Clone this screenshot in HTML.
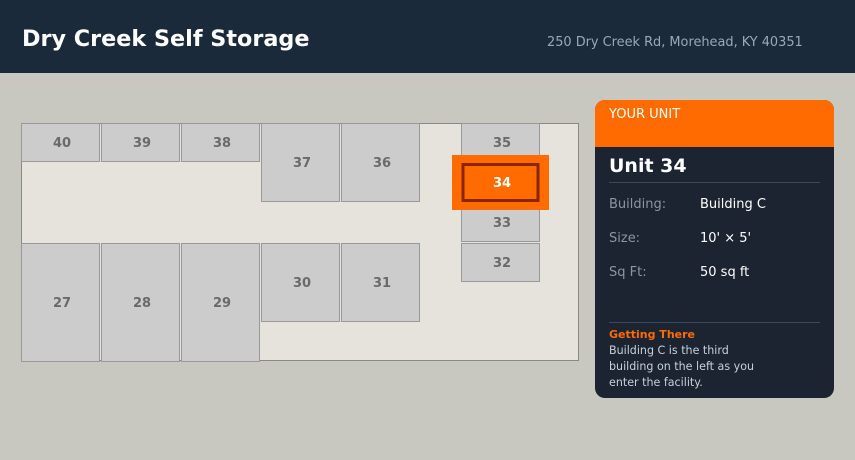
<!DOCTYPE html>
<html><head><meta charset="utf-8"><style>
html,body{margin:0;padding:0;width:855px;height:460px;overflow:hidden;background:#c8c8c0}
svg{display:block;font-family:"DejaVu Sans","Liberation Sans",sans-serif}
</style></head><body>
<svg width="855" height="460" viewBox="0 0 855 460" xmlns="http://www.w3.org/2000/svg">
<rect x="0" y="0" width="855" height="460" fill="#c8c8c0"/>
<rect x="0" y="0" width="855" height="73" fill="#1b2a3b"/>
<text x="22" y="46" font-size="22.3" font-weight="bold" fill="#fff">Dry Creek Self Storage</text>
<text x="547" y="46" font-size="12.9" fill="#9aa8b6">250 Dry Creek Rd, Morehead, KY 40351</text>

<rect x="21.5" y="123.5" width="557" height="237" fill="#e6e2dc" stroke="#888" stroke-width="1"/>
<g fill="#cccccc" stroke="#999" stroke-width="1">
<rect x="21.5" y="123.5" width="78" height="38"/>
<rect x="101.5" y="123.5" width="78" height="38"/>
<rect x="181.5" y="123.5" width="78" height="38"/>
<rect x="261.5" y="123.5" width="78" height="78"/>
<rect x="341.5" y="123.5" width="78" height="78"/>
<rect x="461.5" y="123.5" width="78" height="38"/>
<rect x="461.5" y="201.5" width="78" height="40"/>
<rect x="461.5" y="243.5" width="78" height="38"/>
<rect x="21.5" y="243.5" width="78" height="118"/>
<rect x="101.5" y="243.5" width="78" height="118"/>
<rect x="181.5" y="243.5" width="78" height="118"/>
<rect x="261.5" y="243.5" width="78" height="78"/>
<rect x="341.5" y="243.5" width="78" height="78"/>
</g>
<rect x="452" y="155" width="97" height="55" fill="#ff6b00"/>
<rect x="463" y="164.5" width="75" height="36" fill="#ff6b00" stroke="#8b2500" stroke-width="3"/>
<g font-size="13" font-weight="bold" fill="#6a6a6a" text-anchor="middle">
<text x="62" y="147">40</text><text x="142" y="147">39</text><text x="222" y="147">38</text>
<text x="302" y="167">37</text><text x="382" y="167">36</text>
<text x="502" y="147">35</text><text x="502" y="227">33</text><text x="502" y="267">32</text>
<text x="62" y="307">27</text><text x="142" y="307">28</text><text x="222" y="307">29</text>
<text x="302" y="287">30</text><text x="382" y="287">31</text>
<text x="502" y="187" fill="#fff">34</text>
</g>

<rect x="595" y="100" width="239" height="298" rx="10" fill="#1b2430"/>
<path d="M595 147 V110 A10 10 0 0 1 605 100 H824 A10 10 0 0 1 834 110 V147 Z" fill="#ff6b00"/>
<text x="609" y="118" font-size="13" fill="#fff">YOUR UNIT</text>
<text x="609" y="172" font-size="19" font-weight="bold" fill="#fff">Unit 34</text>
<line x1="609" y1="182.5" x2="820" y2="182.5" stroke="#3a4a5c"/>
<g font-size="13">
<text x="609" y="208" fill="#8a96a3">Building:</text><text x="700" y="208" fill="#fff">Building C</text>
<text x="609" y="242" fill="#8a96a3">Size:</text><text x="700" y="242" fill="#fff">10' × 5'</text>
<text x="609" y="276" fill="#8a96a3">Sq Ft:</text><text x="700" y="276" fill="#fff">50 sq ft</text>
</g>
<line x1="609" y1="322.5" x2="820" y2="322.5" stroke="#3a4a5c"/>
<text x="609" y="338" font-size="11" font-weight="bold" fill="#ff6b00">Getting There</text>
<g font-size="11.1" fill="#c8d0d8">
<text x="609" y="354">Building C is the third</text>
<text x="609" y="370">building on the left as you</text>
<text x="609" y="386">enter the facility.</text>
</g>
</svg>
</body></html>
